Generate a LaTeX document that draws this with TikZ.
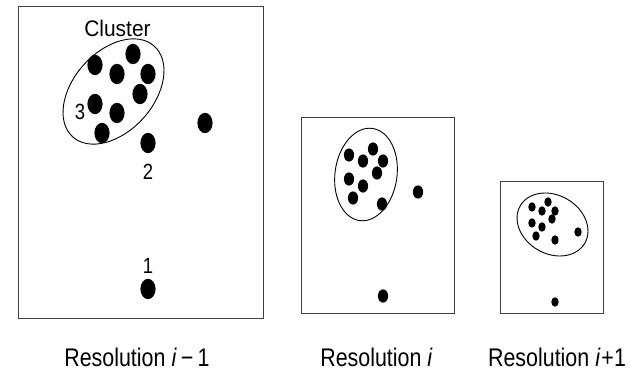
\documentclass[tikz,border=0pt]{standalone}
\usepackage{fontspec}
\setmainfont{Liberation Sans}
\newfontfamily\labfont[FakeStretch=0.84]{Liberation Sans}
\newfontfamily\clfont[FakeStretch=0.93]{Liberation Sans}
\tikzset{
  frame/.style={draw=black!75, line width=1pt},
  clus/.style={draw=black, line width=0.9pt},
  bigdot/.style={fill=black},
  lab/.style={inner sep=0pt, anchor=base, font=\labfont\fontsize{22}{22}\selectfont},
  cllab/.style={inner sep=0pt, anchor=base, font=\clfont\fontsize{22.5}{23}\selectfont},
  reslab/.style={inner sep=0pt, anchor=base, font=\labfont\fontsize{25.5}{26}\selectfont}
}
\begin{document}
\begin{tikzpicture}[x=1pt,y=-1pt]
\useasboundingbox (0,0) rectangle (631,371);
% boxes
\draw[frame] (18,7) rectangle (263,318);
\draw[frame] (301,118) rectangle (454,313);
\draw[frame] (500,182) rectangle (603,313);
% box 1
\draw[clus, rotate around={48:(113.5,91.5)}] (113.5,91.5) ellipse [x radius=61, y radius=40];
\foreach \p in {(95,65),(133,54),(117,74),(148,74),(140,94),(95,104),(117,113),(102,133),(205,123),(148,143),(148,289)}
  \fill[bigdot] \p ellipse [x radius=7.6, y radius=10.2];
\node[cllab] (cl) at (117.5,37) {Cluster};
\node[lab] (n3) at (80,120) {3};
\node[lab] (n2) at (148,180) {2};
\node[lab] (n1) at (148,273) {1};
% box 2
\draw[clus, rotate around={-8:(366,174.5)}] (366,174.5) ellipse [x radius=31, y radius=46.5];
\foreach \p in {(349,155),(373,149),(363,161),(383,161),(377,173),(349,179),(363,186),(353,198),(382,204),(418,192),(383,296)}
  \fill[bigdot] \p ellipse [x radius=5.1, y radius=6.6];
% box 3
\draw[clus, rotate around={-30:(552.5,224.5)}] (552.5,224.5) ellipse [x radius=37.3, y radius=29.3];
\foreach \p in {(532,207),(548,202),(542,211),(555,211),(552,219),(532,223),(542,227),(536,236),(555,240),(578,232),(555,302)}
  \fill[bigdot] \p ellipse [x radius=3.7, y radius=4.7];
% captions
\node[reslab] (r1) at (137,366) {Resolution \textit{i}\,−\,1};
\node[reslab] (r2) at (376.5,366) {Resolution \textit{i}};
\node[reslab] (r3) at (557,366) {Resolution \textit{i}\kern1pt+1};
\end{tikzpicture}
\end{document}
